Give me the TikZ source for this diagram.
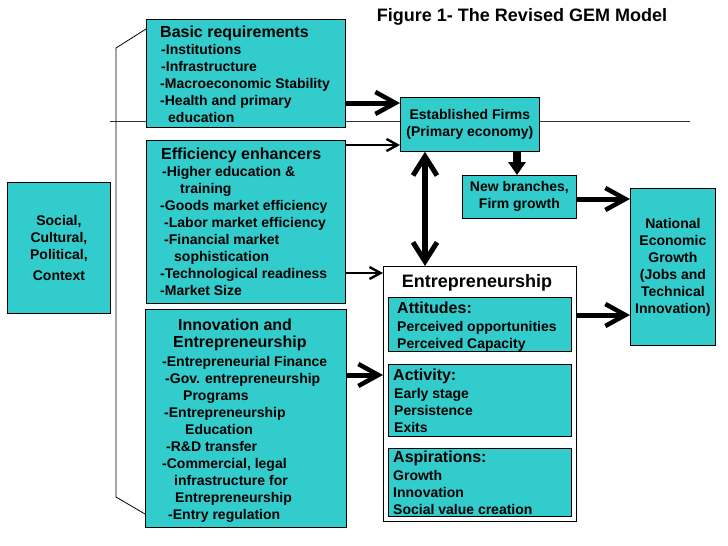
\documentclass[tikz,border=0pt]{standalone}
\usepackage{fontspec}
\setmainfont{Liberation Sans}
\usepackage{xcolor}
\usepackage{tikz}
\usetikzlibrary{positioning,arrows.meta}
\definecolor{gemteal}{RGB}{51,204,204}
\newcommand{\gemhead}{\fontsize{16}{17}\selectfont}

\begin{document}
\begin{tikzpicture}[x=1pt,y=-1pt,
  box/.style={rectangle,draw,line width=0.8pt,fill=gemteal,anchor=north west,inner sep=0pt,align=center,font=\fontsize{14}{17}\selectfont\bfseries},
  txt/.style={anchor=north west,inner sep=0pt,align=left,font=\fontsize{14}{17}\selectfont\bfseries},
  fatarr/.style={line width=5pt,-{Straight Barb[length=20pt,width=22pt,line width=4.5pt]}},
  thinarr/.style={line width=2.4pt,-{Straight Barb[length=11pt,width=12pt,line width=2.4pt]}},
  dblarr/.style={line width=6pt,{Straight Barb[length=19pt,width=24pt,line width=5pt]}-{Straight Barb[length=19pt,width=24pt,line width=5pt]}},
  downarr/.style={line width=8pt,-{Triangle[length=13pt,width=17pt]}}]
  \useasboundingbox[fill=white](0,0)rectangle(728,546);
  % title
  \node[font=\fontsize{18}{20}\selectfont\bfseries](title)at(522,17){Figure 1- The Revised GEM Model};
  % dividing line, behind the boxes
  \draw[line width=0.8pt,black!80](110,121)--(690,121);
  % left column
  \node[box,minimum width=103pt,minimum height=131pt](social)at(7,182){Social,\\Cultural,\\Political,\\[4pt]Context};
  \node[box,minimum width=199pt,minimum height=108pt](basic)at(146,19){};
  \node[txt](basictxt)at(160,26){{\gemhead Basic requirements}\\
    \hspace*{1pt}-Institutions\\
    \hspace*{1pt}-Infrastructure\\
    -Macroeconomic Stability\\
    -Health and primary\\
    \hspace*{8pt}education};
  \node[box,minimum width=199pt,minimum height=163pt](eff)at(146,140){};
  \node[txt](efftxt)at(160,148){\hspace*{1pt}{\gemhead Efficiency enhancers}\\
    \hspace*{2pt}-Higher education \&\\
    \hspace*{20pt}training\\
    -Goods market efficiency\\
    \hspace*{4pt}-Labor market efficiency\\
    \hspace*{4pt}-Financial market\\
    \hspace*{14pt}sophistication\\
    -Technological readiness\\
    -Market Size};
  \node[box,minimum width=201pt,minimum height=218pt](innov)at(145,309){};
  \node[txt](innovtxt)at(162,319){\hspace*{16pt}{\gemhead Innovation and}\\
    \hspace*{11pt}{\gemhead Entrepreneurship}\\[2pt]
    -Entrepreneurial Finance\\
    \hspace*{3pt}-Gov. entrepreneurship\\
    \hspace*{21pt}Programs\\
    \hspace*{2pt}-Entrepreneurship\\
    \hspace*{23pt}Education\\
    \hspace*{4pt}-R\&D transfer\\
    -Commercial, legal\\
    \hspace*{12pt}infrastructure for\\
    \hspace*{13pt}Entrepreneurship\\
    \hspace*{6pt}-Entry regulation};
  % bracket
  \draw[line width=0.8pt](basic.west|-0,29)--(116,48)--(116,497)--(innov.west|-0,514);
  % right part
  \node[box,minimum width=139pt,minimum height=54pt](firms)at(400,97){Established Firms\\(Primary economy)};
  \node[box,minimum width=114pt,minimum height=43pt](branch)at(462,175){New branches,\\Firm growth};
  \node[box,minimum width=85pt,minimum height=157pt](natl)at(630,188){National\\Economic\\Growth\\(Jobs and\\Technical\\Innovation)};
  \node[box,fill=white,minimum width=193pt,minimum height=255pt](entre)at(383,266){};
  \node[font=\fontsize{18}{20}\selectfont\bfseries](entretitle)at(477,283){Entrepreneurship};
  \node[box,minimum width=183pt,minimum height=54pt](att)at(388,297){};
  \node[txt](atttxt)at(397,302){{\gemhead Attitudes:}\\[1pt]
    Perceived opportunities\\
    Perceived Capacity};
  \node[box,minimum width=183pt,minimum height=72pt](act)at(388,364){};
  \node[txt](acttxt)at(393,369){{\gemhead Activity:}\\[1pt]
    \hspace*{1pt}Early stage\\
    \hspace*{1pt}Persistence\\
    \hspace*{1pt}Exits};
  \node[box,minimum width=183pt,minimum height=68pt](asp)at(388,448){};
  \node[txt](asptxt)at(393,451){{\gemhead Aspirations:}\\[1pt]
    Growth\\
    Innovation\\
    Social value creation};
  % arrows
  \draw[fatarr](basic.east|-0,103)--(firms.west|-0,103);
  \draw[thinarr](eff.east|-0,145)--(firms.west|-0,145);
  \draw[downarr](firms.south-|517,0)--(branch.north-|517,0);
  \draw[dblarr](firms.south-|425,0)--(entre.north-|425,0);
  \draw[fatarr](branch.east|-0,199)--(natl.west|-0,199);
  \draw[thinarr](eff.east|-0,273)--(entre.west|-0,273);
  \draw[fatarr](innov.east|-0,375)--(entre.west|-0,375);
  \draw[fatarr](entre.east|-0,315)--(natl.west|-0,315);
\end{tikzpicture}
\end{document}
